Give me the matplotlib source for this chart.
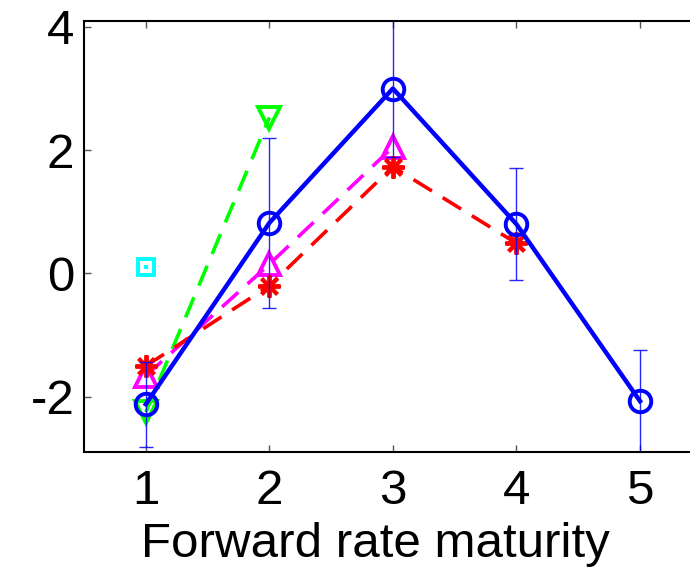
import matplotlib
matplotlib.use('Agg')
from matplotlib import pyplot as plt

plt.rcParams['font.family'] = ['Liberation Sans', 'DejaVu Sans']
plt.rcParams['axes.unicode_minus'] = False

maturity = [1, 2, 3, 4, 5]
blue_vals = [-2.12, 0.82, 3.0, 0.8, -2.07]
blue_err = [0.69, 1.38, 1.11, 0.91, 0.83]
red_vals = [-1.5, -0.2, 1.73, 0.49]
magenta_vals = [-1.66, 0.15, 2.05]
green_vals = [-2.25, 2.53]
cyan_vals = [0.1]

fig = plt.figure(figsize=(6.9, 5.67), dpi=100)
ax = fig.add_axes([84 / 690, (567 - 452.3) / 567, 617.75 / 690, 431.6 / 567])

# dashed series first, blue on top like the original
ax.plot(maturity[:len(green_vals)], green_vals, color=(0, 1, 0), lw=2.6, dashes=(6, 3.5),
        marker='v', ms=16, mfc='none', mew=2.8)
ax.plot(maturity[:1], cyan_vals, color=(0, 1, 1), ls='none', marker='s', ms=12, mfc='none', mew=2.8)
ax.plot(maturity[:1], cyan_vals, color=(0, 1, 1), ls='none', marker='s', ms=2.5, mew=0)
ax.plot(maturity[:len(magenta_vals)], magenta_vals, color=(1, 0, 1), lw=2.6, dashes=(6, 3.5),
        marker='^', ms=16, mfc='none', mew=2.8)
ax.plot(maturity[:len(red_vals)], red_vals, color=(1, 0, 0), lw=2.6, dashes=(6, 3.5),
        marker=(8, 2, 0), ms=16, mew=2.8)
ax.plot(maturity, blue_vals, color=(0, 0, 1), lw=3.2, marker='o', ms=15.5, mfc='none', mew=2.8)
ax.errorbar(maturity, blue_vals, yerr=blue_err, fmt='none', ecolor=(0, 0, 1),
            elinewidth=1, capsize=5, capthick=1, alpha=0.85)

ax.set_xlim(0.5, 5.5)
ax.set_ylim(-2.9, 4.1)
ax.set_xticks(maturity)
ax.set_yticks([-2, 0, 2, 4])
ax.tick_params(direction='in', length=5, width=1, top=True, right=True,
               labelsize=35.5, color='#555555')
ax.tick_params(axis='x', pad=12)
ax.tick_params(axis='y', pad=7)
for s in ax.spines.values():
    s.set_linewidth(1.5)
ax.set_xlabel('Forward rate maturity', fontsize=35.5)
ax.xaxis.set_label_coords(0.472, -0.162, transform=ax.transAxes)
ax.xaxis.label.set_va('top')

fig.savefig('out.png', dpi=100)
